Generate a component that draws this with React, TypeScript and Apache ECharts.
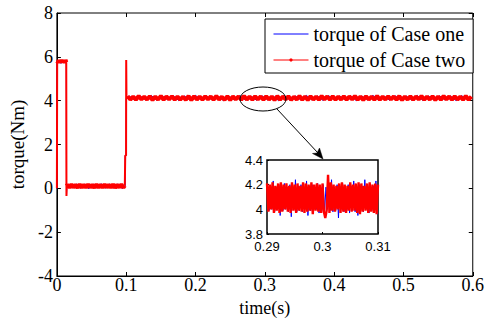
import React, { useEffect, useRef } from "react";
import * as echarts from "echarts";

// ---------- data ----------
const nameOne = "torque of Case one";
const nameTwo = "torque of Case two";

const xTicks = [0, 0.1, 0.2, 0.3, 0.4, 0.5, 0.6];
const yTicks = [-4, -2, 0, 2, 4, 6, 8];
const insetXTicks = [0.29, 0.3, 0.31];
const insetYTicks = [3.8, 4, 4.2, 4.4];

// Case two (red): switch-on edge, start-up band, drop, low band, rise, steady band
const twoOn: [number, number][] = [[0, 0], [0.0004, 5.8]];
const twoStartBand: [number, number][] = [
  [0.0004, 5.8], [0.0015, 5.74], [0.0025, 5.86], [0.0035, 5.72], [0.0045, 5.85],
  [0.0055, 5.74], [0.0065, 5.87], [0.0075, 5.73], [0.0085, 5.86], [0.0095, 5.74],
  [0.0105, 5.85], [0.0115, 5.72], [0.0125, 5.86], [0.0135, 5.75],
];
const twoDrop: [number, number][] = [[0.0135, 5.75], [0.0138, -0.35], [0.0142, 0.12]];
// Case two low region, sampled from t=0.015 every 0.003 s
const twoLowStart = 0.015;
const twoLowStep = 0.003;
const twoLow = [
  0.17, 0.03, 0.18, 0.04, 0.17, 0.02, 0.19, 0.03, 0.17, 0.03, 0.18, 0.04, 0.17, 0.02,
  0.19, 0.03, 0.17, 0.03, 0.18, 0.04, 0.17, 0.03, 0.19, 0.02, 0.17, 0.04, 0.18, 0.03,
];
const twoRise: [number, number][] = [
  [0.098, 0.12], [0.0986, 1.5], [0.0998, 1.5], [0.1, 5.85], [0.1004, 4.1], [0.102, 4.2],
];
// Case two steady region, from t=0.102 every 0.004 s
const twoSteadyStart = 0.102;
const twoSteadyStep = 0.004;
const twoSteady = [
  4.2, 4.05, 4.19, 4.04, 4.21, 4.06, 4.18, 4.05, 4.2, 4.03, 4.19, 4.05, 4.21, 4.04, 4.19, 4.06, 4.2, 4.04, 4.19, 4.05, 4.18, 4.04, 4.21, 4.03, 4.2,
  4.05, 4.19, 4.04, 4.2, 4.06, 4.19, 4.04, 4.21, 4.05, 4.18, 4.04, 4.2, 4.03, 4.19, 4.06, 4.19, 4.04, 4.21, 4.05, 4.19, 4.04, 4.2, 4.06, 4.19, 4.04,
  4.2, 4.05, 4.19, 4.03, 4.21, 4.04, 4.19, 4.06, 4.2, 4.04, 4.18, 4.05, 4.21, 4.04, 4.19, 4.03, 4.2, 4.05, 4.19, 4.04, 4.21, 4.06, 4.19, 4.04, 4.2,
  4.04, 4.19, 4.05, 4.2, 4.04, 4.19, 4.06, 4.21, 4.04, 4.19, 4.03, 4.2, 4.05, 4.19, 4.04, 4.21, 4.04, 4.19, 4.05, 4.2, 4.06, 4.19, 4.04, 4.21, 4.03,
  4.19, 4.05, 4.2, 4.04, 4.19, 4.06, 4.21, 4.04, 4.19, 4.05, 4.2, 4.03, 4.19, 4.04, 4.21, 4.06, 4.19, 4.04, 4.2, 4.05, 4.19, 4.04, 4.21, 4.04, 4.19,
];

// Case one (blue)
const oneStart: [number, number][] = [
  [0, 0], [0.0004, 5.78], [0.002, 5.72], [0.004, 5.84], [0.006, 5.7], [0.008, 5.85],
  [0.01, 5.72], [0.012, 5.84], [0.0136, 5.74], [0.0139, -0.3], [0.0143, 0.1],
];
const oneLowStart = 0.016;
const oneLowStep = 0.006;
const oneLow = [0.19, 0.02, 0.2, 0.01, 0.19, -0.02, 0.2, 0.03, 0.21, 0.01, 0.19, 0.02, 0.2, -0.01];
const oneStep: [number, number][] = [
  [0.0985, 0.1], [0.0986, 1.5], [0.0998, 1.5], [0.1, 4.1],
];
const oneSteadyStart = 0.104;
const oneSteadyStep = 0.008;
const oneSteady = [
  4.22, 4.03, 4.21, 4.04, 4.24, 4.02, 4.21, 4.04, 4.22, 4.0,
  4.21, 4.03, 4.24, 4.04, 4.21, 4.03, 4.22, 4.01, 4.21, 4.04,
  4.23, 4.03, 4.21, 4.02, 4.22, 4.04, 4.21, 4.0, 4.23, 4.03,
  4.21, 4.04, 4.24, 4.03, 4.21, 4.01, 4.23, 4.04, 4.21, 4.03,
  4.22, 4.0, 4.21, 4.04, 4.24, 4.03, 4.21, 4.02, 4.22, 4.04,
  4.21, 4.03, 4.24, 4.01, 4.21, 4.04, 4.22, 4.03, 4.21, 4.0,
  4.23, 4.04,
];

// Inset (zoom 0.29 – 0.31 s), sampled every 0.00025 s
const insetStart = 0.29;
const insetStep = 0.00025;
const insetTwo = [
  4.21, 3.98, 4.2, 4.0, 4.22, 3.97, 4.19, 3.99, 4.21, 3.97, 4.22, 3.98, 4.2, 4.0, 4.21, 3.98, 4.19, 3.97, 4.22, 3.99,
  4.2, 3.97, 4.21, 3.99, 4.19, 3.98, 4.22, 3.97, 4.21, 3.98, 4.2, 3.99, 4.22, 3.96, 4.2, 3.99, 4.21, 3.98, 4.2, 3.97,
  4.21, 3.98, 3.93, 3.99, 4.28, 3.97, 4.22, 3.99, 4.2, 3.98, 4.19, 4.0, 4.21, 3.97, 4.22, 3.98, 4.2, 3.97, 4.19, 3.99,
  4.22, 3.98, 4.2, 3.99, 4.21, 3.97, 4.22, 3.96, 4.21, 3.98, 4.19, 3.99, 4.21, 3.97, 4.22, 3.98, 4.2, 3.97, 4.21, 3.96, 4.2,
];
const insetOne = [
  4.2, 3.99, 4.19, 4.0, 4.23, 3.98, 4.18, 4.0, 4.2, 3.95, 4.19, 3.99, 4.21, 4.0, 4.18, 3.98, 4.2, 3.94, 4.19, 4.0,
  4.24, 3.98, 4.19, 3.99, 4.2, 3.98, 4.18, 4.0, 4.23, 3.95, 4.19, 3.99, 4.2, 3.98, 4.18, 4.0, 4.21, 3.97, 4.19, 3.99,
  4.2, 3.98, 4.18, 4.0, 4.19, 3.99, 4.24, 3.98, 4.18, 3.99, 4.2, 3.93, 4.19, 4.0, 4.21, 3.98, 4.18, 3.99, 4.2, 3.97,
  4.19, 3.99, 4.23, 3.98, 4.18, 3.95, 4.2, 3.99, 4.19, 3.98, 4.24, 4.0, 4.18, 3.97, 4.2, 3.99, 4.19, 3.98, 4.23, 3.96, 4.2,
];

// ---------- helpers ----------
const sampled = (start: number, step: number, vals: number[]): [number, number][] =>
  vals.map((v, i) => [+(start + i * step).toFixed(6), v]);

const GAP: [number, null] = [NaN, null] as any;
// thick noisy bands of Case two
const twoBands = [
  ...twoStartBand,
  "-",
  [twoDrop[twoDrop.length - 1][0], twoDrop[twoDrop.length - 1][1]],
  ...sampled(twoLowStart, twoLowStep, twoLow),
  twoRise[0],
  "-",
  ...sampled(twoSteadyStart, twoSteadyStep, twoSteady),
];
// thin switching edges of Case two
const twoEdges = [...twoOn, "-", ...twoDrop, "-", ...twoRise];

const oneData = [
  ...oneStart,
  ...sampled(oneLowStart, oneLowStep, oneLow),
  ...oneStep,
  ...sampled(oneSteadyStart, oneSteadyStep, oneSteady),
];
const insetTwoData = sampled(insetStart, insetStep, insetTwo);
const insetOneData = sampled(insetStart + insetStep / 2, insetStep, insetOne).filter((p) => p[0] <= 0.31);
void GAP;

const SERIF = "'Liberation Serif', 'Times New Roman', serif";
const SANS = "'Liberation Sans', Arial, sans-serif";
const BLUE = "#0000ff";
const RED = "#ff0000";

export default function App() {
  const ref = useRef<HTMLDivElement>(null);
  useEffect(() => {
    if (!ref.current) return;
    const chart = echarts.init(ref.current, undefined, { renderer: "svg" });
    const tickIn = { show: true, inside: true, length: 4, lineStyle: { color: "#000", width: 1 } };
    const fmt1 = (v: number) => String(+v.toFixed(2));
    chart.setOption({
      animation: false,
      backgroundColor: "#fff",
      grid: [
        { left: 52, top: 13, width: 424, height: 263, show: true, borderColor: "#000", borderWidth: 1, backgroundColor: "transparent" },
        { left: 267, top: 160, width: 111, height: 74, show: true, borderColor: "#000", borderWidth: 1.5, backgroundColor: "#fff", z: 5 },
      ],
      xAxis: [
        {
          type: "value", gridIndex: 0, min: xTicks[0], max: xTicks[xTicks.length - 1], interval: 0.1,
          axisLine: { show: true, onZero: false, lineStyle: { color: "#000" } }, axisTick: tickIn, splitLine: { show: false },
          axisLabel: { color: "#000", fontFamily: SERIF, fontSize: 18, margin: 0, formatter: fmt1 },
          name: "time(s)", nameLocation: "middle", nameGap: 23,
          nameTextStyle: { color: "#000", fontFamily: SERIF, fontSize: 18 },
        },
        {
          type: "value", gridIndex: 0, position: "top", min: xTicks[0], max: xTicks[xTicks.length - 1], interval: 0.1,
          axisLine: { show: false, onZero: false }, axisTick: tickIn, axisLabel: { show: false }, splitLine: { show: false },
        },
        {
          type: "value", gridIndex: 1, min: insetXTicks[0], max: insetXTicks[insetXTicks.length - 1], interval: 0.01,
          axisLine: { show: false, onZero: false }, axisTick: { ...tickIn, length: 2 }, splitLine: { show: false },
          axisLabel: { color: "#000", fontFamily: SANS, fontSize: 13, margin: 6, formatter: fmt1 },
          z: 6,
        },
      ],
      yAxis: [
        {
          type: "value", gridIndex: 0, min: yTicks[0], max: yTicks[yTicks.length - 1], interval: 2,
          axisLine: { show: true, onZero: false, lineStyle: { color: "#000" } }, axisTick: tickIn, splitLine: { show: false },
          axisLabel: { color: "#000", fontFamily: SERIF, fontSize: 18, margin: 4 },
          name: "torque(Nm)", nameLocation: "middle", nameGap: 27,
          nameTextStyle: { color: "#000", fontFamily: SERIF, fontSize: 19 },
        },
        {
          type: "value", gridIndex: 0, position: "right", min: yTicks[0], max: yTicks[yTicks.length - 1], interval: 2,
          axisLine: { show: false, onZero: false }, axisTick: tickIn, axisLabel: { show: false }, splitLine: { show: false },
        },
        {
          type: "value", gridIndex: 1, min: insetYTicks[0], max: insetYTicks[insetYTicks.length - 1], interval: 0.2,
          axisLine: { show: false, onZero: false }, axisTick: { ...tickIn, length: 2 }, splitLine: { show: false },
          axisLabel: { color: "#000", fontFamily: SANS, fontSize: 13, margin: 4, formatter: fmt1 },
          z: 6,
        },
      ],
      legend: {
        orient: "vertical", left: 265, top: 19,
        backgroundColor: "#fff", borderColor: "#000", borderWidth: 1, borderRadius: 0,
        padding: [5, 8, 3, 8], itemGap: 6, itemWidth: 35, itemHeight: 4,
        textStyle: { color: "#000", fontFamily: SERIF, fontSize: 20, lineHeight: 20 },
        lineStyle: { width: 1 },
        data: [
          { name: nameOne, lineStyle: { width: 1, color: BLUE }, itemStyle: { opacity: 0 } },
          { name: nameTwo, lineStyle: { width: 1, color: RED }, itemStyle: { color: RED } },
        ],
        z: 10,
      },
      series: [
        {
          name: nameOne, type: "line", xAxisIndex: 0, yAxisIndex: 0, data: oneData,
          symbol: "none", lineStyle: { color: BLUE, width: 1 }, itemStyle: { color: BLUE }, z: 2,
        },
        {
          name: nameTwo, type: "line", xAxisIndex: 0, yAxisIndex: 0, data: twoBands, connectNulls: false,
          symbol: "circle", symbolSize: 3, showSymbol: false, lineStyle: { color: RED, width: 4 }, itemStyle: { color: RED }, z: 3,
        },
        {
          name: nameTwo, type: "line", xAxisIndex: 0, yAxisIndex: 0, data: twoEdges, connectNulls: false,
          symbol: "none", lineStyle: { color: RED, width: 2 }, itemStyle: { color: RED }, z: 3,
        },
        {
          name: nameOne, type: "line", xAxisIndex: 2, yAxisIndex: 2, data: insetOneData,
          symbol: "none", lineStyle: { color: BLUE, width: 1 }, itemStyle: { color: BLUE }, z: 6,
        },
        {
          name: nameTwo, type: "line", xAxisIndex: 2, yAxisIndex: 2, data: insetTwoData,
          symbol: "none", showSymbol: false, lineStyle: { color: RED, width: 2.4 }, itemStyle: { color: RED }, z: 7,
        },
      ],
      graphic: [
        {
          type: "ellipse", shape: { cx: 263, cy: 99, rx: 23, ry: 12 },
          style: { fill: "none", stroke: "#000", lineWidth: 1 }, z: 20,
        },
        {
          type: "line", shape: { x1: 277, y1: 109, x2: 318, y2: 153 },
          style: { stroke: "#000", lineWidth: 1 }, z: 20,
        },
        {
          type: "polygon",
          shape: { points: [[323, 159], [312.5, 153.5], [317, 153], [319.5, 148]] },
          style: { fill: "#000", stroke: "#000", lineWidth: 0.5 }, z: 20,
        },
      ],
    });
    return () => chart.dispose();
  }, []);
  return <div ref={ref} style={{ position: "fixed", left: 0, top: 0, width: 487, height: 324 }} />;
}
